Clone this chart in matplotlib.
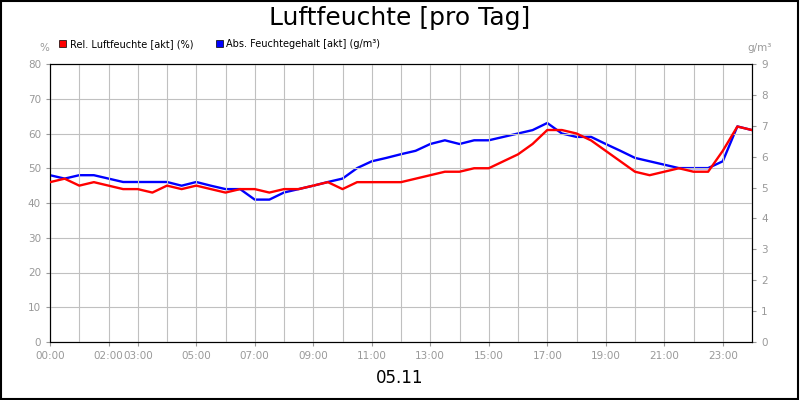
import numpy as np
import matplotlib.pyplot as plt
from matplotlib.patches import Rectangle

# half-hour steps, 00:00 .. 24:00
hours = np.arange(0, 24.5, 0.5)
rel_humidity = [46, 47, 45, 46, 45, 44, 44, 43, 45, 44, 45, 44, 43, 44, 44, 43,
                44, 44, 45, 46, 44, 46, 46, 46, 46, 47, 48, 49, 49, 50, 50, 52,
                54, 57, 61, 61, 60, 58, 55, 52, 49, 48, 49, 50, 49, 49, 55, 62, 61]
abs_humidity = [5.40, 5.29, 5.40, 5.40, 5.29, 5.18, 5.18, 5.18, 5.18, 5.06, 5.18, 5.06,
                4.95, 4.95, 4.61, 4.61, 4.84, 4.95, 5.06, 5.18, 5.29, 5.63, 5.85, 5.96,
                6.08, 6.19, 6.41, 6.53, 6.41, 6.53, 6.53, 6.64, 6.75, 6.86, 7.09, 6.75,
                6.64, 6.64, 6.41, 6.19, 5.96, 5.85, 5.74, 5.63, 5.63, 5.63, 5.74, 5.85,
                6.98, 6.86]
abs_humidity = abs_humidity[:46] + [5.85, 6.98, 6.86]
tick_hours = [0, 2, 3, 5, 7, 9, 11, 13, 15, 17, 19, 21, 23]
tick_labels = ["00:00", "02:00", "03:00", "05:00", "07:00", "09:00", "11:00",
               "13:00", "15:00", "17:00", "19:00", "21:00", "23:00"]

grey = "#999999"
fig = plt.figure(figsize=(8, 4), dpi=100, facecolor="white")
fig.patches.append(Rectangle((0.001, 0.002), 0.997, 0.996, transform=fig.transFigure,
                             fill=False, edgecolor="black", linewidth=1.5))
ax = fig.add_axes([0.0625, 0.145, 0.8775, 0.695])
ax2 = ax.twinx()

ax.plot(hours, rel_humidity, color="#ff0000", linewidth=1.7, zorder=3)
ax2.plot(hours, abs_humidity, color="#0000ff", linewidth=1.7, zorder=2)
ax.set_zorder(ax2.get_zorder() + 1)
ax.patch.set_visible(False)

ax.set_xlim(0, 24)
ax.set_ylim(0, 80)
ax2.set_ylim(0, 9)
ax.set_yticks(range(0, 81, 10))
ax2.set_yticks(range(0, 10))
ax.set_xticks(range(0, 25), minor=True)
ax.set_xticks(tick_hours)
ax.set_xticklabels(tick_labels)
ax.grid(True, which="both", axis="x", color="#c0c0c0", linewidth=0.8)
ax.grid(True, axis="y", color="#c0c0c0", linewidth=0.8)
for a in (ax, ax2):
    a.tick_params(colors=grey, labelsize=7.5, length=3)
    for s in a.spines.values():
        s.set_color("black")
ax.tick_params(axis="x", which="minor", length=0)

fig.text(0.5, 0.955, "Luftfeuchte [pro Tag]", ha="center", va="center", fontsize=18)
fig.text(0.5, 0.055, "05.11", ha="center", va="center", fontsize=12)
fig.text(0.055, 0.88, "%", ha="center", va="center", fontsize=7.5, color=grey)
fig.text(0.95, 0.88, "g/m³", ha="center", va="center", fontsize=7.5, color=grey)

fig.patches.append(Rectangle((0.074, 0.882), 0.009, 0.018, transform=fig.transFigure,
                             facecolor="#ff0000", edgecolor="black", linewidth=0.5))
fig.text(0.087, 0.89, "Rel. Luftfeuchte [akt] (%)", va="center", fontsize=7)
fig.patches.append(Rectangle((0.27, 0.882), 0.009, 0.018, transform=fig.transFigure,
                             facecolor="#0000ff", edgecolor="black", linewidth=0.5))
fig.text(0.283, 0.89, "Abs. Feuchtegehalt [akt] (g/m³)", va="center", fontsize=7)

fig.savefig("out.png", dpi=100)
